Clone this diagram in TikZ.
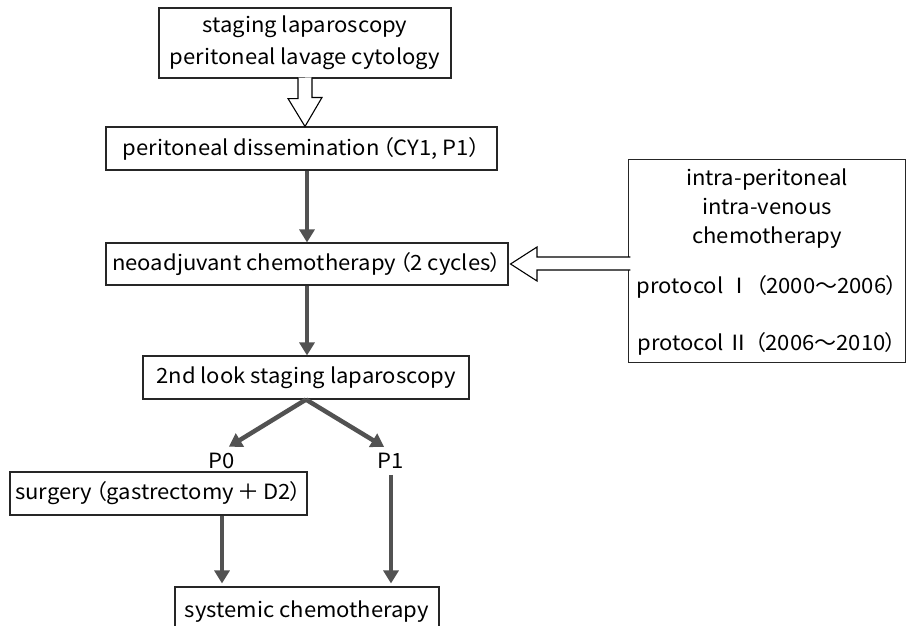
\documentclass[tikz,border=0pt]{standalone}
\usepackage{fontspec}
\setmainfont[FakeStretch=1.05]{Noto Sans CJK JP}
\newfontfamily\pfont[FakeStretch=1.05,RawFeature=+palt]{Noto Sans CJK JP}
\usetikzlibrary{arrows.meta,calc}
\begin{document}
\begin{tikzpicture}[x=1pt,y=-1pt,
  box/.style={draw=black!85, line width=1.1pt, minimum height=43pt, inner sep=0pt,
    font=\pfont\fontsize{21}{32}\selectfont},
  lbl/.style={font=\pfont\fontsize{21}{29}\selectfont, inner sep=2pt},
  darr/.style={draw=black!68, line width=4.5pt, -{Triangle[width=15pt,length=13pt]}},
  hol/.style={draw=black, line width=1.1pt, fill=white, line join=miter}]
\useasboundingbox (0,0) rectangle (907,626);
% boxes
\node[box, minimum width=292pt, minimum height=70pt, align=center] (b1) at (305,43)
  {staging laparoscopy\\peritoneal lavage cytology};
\node[box, minimum width=391pt] (b2) at (301.5,148.5) {peritoneal dissemination\,（CY1, P1）};
\node[box, minimum width=402pt, minimum height=42pt] (b3) at (307,264) {neoadjuvant chemotherapy\,（2 cycles）};
\node[box, minimum width=326pt] (b4) at (306,377.5) {2nd look staging laparoscopy};
\node[box, minimum width=297pt] (b5) at (158.5,493.5) {surgery\,（gastrectomy\,＋\,D2）};
\node[box, minimum width=264pt, minimum height=50pt] (b6) at (307,612) {systemic chemotherapy};
% right box
\node[minimum width=276pt, minimum height=202pt, inner sep=0pt] (rb) at (767,261) {};
\draw[draw=black!85, line width=1.1pt] (rb.north west) rectangle (rb.south east);
\node[lbl, align=center] (rt) at (767,209) {intra-peritoneal\\intra-venous\\chemotherapy};
\node[lbl, inner sep=0pt] (pr1) at (767,287) {protocol\ Ⅰ\ （2000～2006）};
\node[lbl, inner sep=0pt] (pr2) at (767,344) {protocol\,Ⅱ\ （2006～2010）};
% labels
\node[lbl] (p0) at (222,461) {P0};
\node[lbl] (p1) at (391,461) {P1};
% hollow arrows
\draw[hol] ([xshift=-7pt,yshift=1pt]b1.south) -- ++(0,21) -- ++(-10,0)
  -- (b1.south |- b2.north) -- ++(17,-29) -- ++(-10,0) -- ++(0,-20);
\draw[hol] ([xshift=1.5pt]rb.west |- 0,257) -- (537,257) -- (537,247)
  -- ([xshift=2pt]b3.east) -- (537,281) -- (537,270) -- ([xshift=1.5pt]rb.west |- 0,270);
% dark arrows
\draw[darr] (b3.north |- b2.south) -- (b3.north);
\draw[darr] (b3.south) -- (b3.south |- b4.north);
\draw[darr, shorten >=8pt] (b4.south) -- (p0.north);
\draw[darr, shorten >=8pt] (b4.south) -- (p1.north);
\draw[darr] (b5.south -| p0) -- ([yshift=3pt]b6.north -| p0);
\draw[darr, shorten <=4pt] (p1.south) -- ([yshift=3pt]b6.north -| p1);
\end{tikzpicture}
\end{document}
